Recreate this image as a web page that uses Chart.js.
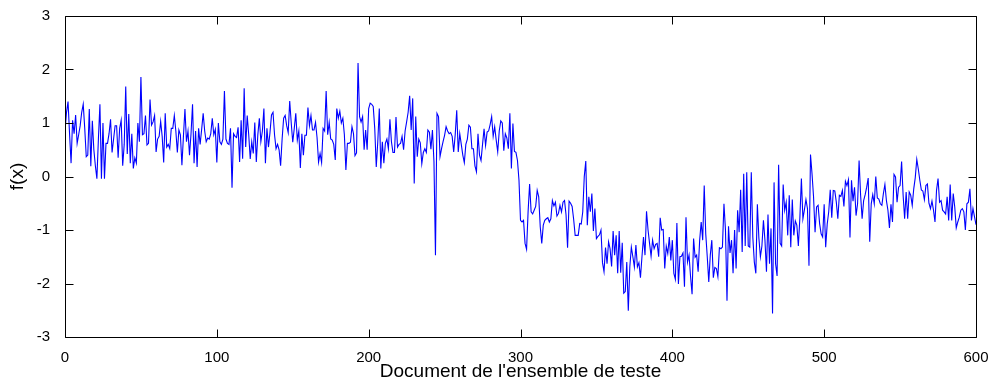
<!doctype html>
<html lang="en">
<head>
<meta charset="utf-8">
<title>f(x)</title>
<script src="https://cdn.jsdelivr.net/npm/chart.js@4"></script>
<style>
  body{margin:0;background:#fff;}
  #wrap{width:995px;height:383px;}
</style>
</head>
<body>
<div id="wrap"><canvas id="myChart" width="995" height="383"></canvas></div>
<script>
// tick values
const xTicks = [0, 100, 200, 300, 400, 500, 600];
const yTicks = [-3, -2, -1, 0, 1, 2, 3];

// f(x), documents 0..600
const seg000 = [
  0.84,1.2,1.4,0.8,0.25,1.05,0.8,1.15,0.62,0.78,
  0.95,1.2,1.35,0.9,0.37,0.4,1.26,0.19,1.04,0.5,
  0.2,-0.04,0.7,1.35,-0.04,1.0,-0.04,0.62,0.62,0.8,
  1.07,0.45,0.7,0.95,0.95,0.35,0.9,1.05,0.2,0.6,
  1.68,0.42,1.17,0.25,0.8,0.15,0.35,0.25,1.0,0.65,
  1.86,0.78,0.8,1.14,0.59,0.62,1.44,0.96,1.02,1.14,
  0.46,0.7,0.75,1.03,0.75,0.26,1.18,0.55,0.6,0.52,
  0.9,0.9,1.14,0.85,0.45,0.87,0.78,0.21,0.75,1.26,
  0.65,0.85,0.4,0.8,1.35,0.25,0.85,0.18,0.9,0.6,
  0.88,1.18,0.85,0.65,0.72,0.7,0.8,1.09,0.78,0.88
];
const seg100 = [
  0.26,1.0,0.65,0.6,0.7,1.6,0.7,0.62,0.6,0.9,
  -0.21,0.8,0.75,0.73,0.92,0.27,1.05,0.33,1.65,0.55,
  1.14,0.78,0.33,0.65,0.43,1.01,0.27,0.78,1.09,0.65,
  0.85,1.27,0.25,0.9,0.55,0.82,1.15,1.2,0.78,0.52,
  0.6,0.5,0.2,0.7,1.09,1.14,0.95,0.82,1.41,1.0,
  0.64,0.9,1.18,0.68,0.85,0.16,0.8,0.4,0.77,0.77,
  1.29,0.95,1.14,0.87,0.87,1.01,0.73,0.27,0.43,0.26,
  0.9,0.85,1.6,0.78,1.01,0.7,0.68,0.6,0.31,1.27,
  1.09,1.22,1.0,1.09,0.78,0.12,0.62,0.62,0.64,0.93,
  0.8,0.39,0.44,2.12,1.12,1.02,1.12,0.5,0.87,0.5
];
const seg200 = [
  1.27,1.37,1.35,1.31,0.9,0.18,0.65,1.27,0.15,0.65,
  0.25,0.62,0.7,0.52,1.07,0.65,0.45,0.45,1.11,0.55,
  0.6,0.62,0.75,0.5,0.85,1.02,1.2,1.51,0.87,1.46,
  -0.13,1.12,0.37,0.7,0.63,0.24,0.45,0.52,0.45,0.87,
  0.83,0.51,0.87,0.28,-1.47,1.18,1.12,0.37,0.52,0.65,
  0.77,0.93,0.85,0.8,0.82,0.75,0.46,0.78,1.24,0.46,
  0.8,0.6,0.4,0.26,0.6,0.7,0.96,0.92,0.52,0.52,
  0.2,0.09,0.8,0.4,0.3,0.6,0.89,0.58,0.83,0.85,
  0.97,1.12,0.75,0.93,0.68,0.46,0.85,1.04,1.0,0.48,
  0.8,0.72,0.52,1.18,0.15,0.99,0.47,0.45,0.3,-0.07
];
const seg300 = [
  -0.82,-0.85,-0.82,-1.25,-1.36,-0.66,-0.14,-0.66,-0.7,-0.63,
  -0.56,-0.26,-0.38,-0.94,-1.25,-0.91,-0.82,-0.79,-0.77,-0.85,
  -0.79,-0.45,-0.55,-0.48,-0.74,-0.69,-0.54,-0.66,-0.48,-0.45,
  -0.72,-1.33,-0.46,-0.5,-0.56,-0.8,-1.1,-1.1,-1.1,-0.88,
  -0.89,-0.66,0.0,0.29,-0.91,-0.38,-0.66,-0.32,-1.02,-0.6,
  -1.16,-1.12,-1.09,-1.0,-1.61,-1.78,-1.33,-1.63,-1.22,-1.35,
  -1.68,-1.02,-1.47,-1.1,-1.81,-1.02,-1.8,-1.24,-2.18,-2.15,
  -1.6,-2.51,-1.69,-1.32,-1.5,-1.69,-1.28,-1.69,-1.61,-1.89,
  -1.5,-1.13,-1.47,-0.65,-1.0,-1.25,-1.49,-1.19,-1.35,-1.27,
  -1.25,-1.5,-0.77,-1.0,-0.99,-1.72,-1.3,-1.44,-1.13,-1.57
];
const seg400 = [
  -1.19,-1.81,-1.92,-0.87,-2.01,-1.5,-1.49,-1.43,-2.06,-0.76,
  -1.6,-1.47,-1.87,-2.2,-1.16,-1.51,-1.47,-1.78,-1.19,-0.85,
  -1.19,-0.17,-1.07,-1.5,-1.97,-1.47,-1.19,-1.89,-1.7,-1.72,
  -1.87,-1.33,-1.35,-1.32,-0.51,-1.0,-2.32,-0.93,-1.43,-1.19,
  -1.81,-1.0,-1.72,-0.63,-1.04,-0.25,-1.41,0.05,-1.3,0.08,
  -1.3,-1.32,0.08,-1.13,-1.6,-1.81,-0.52,-1.15,-1.5,-1.3,
  -0.82,-1.19,-1.78,-0.71,-1.63,-0.97,-2.56,-0.11,-1.63,-1.86,
  0.22,-1.25,-1.3,-0.15,-0.63,-0.48,-1.1,-0.35,-1.32,-0.43,
  -1.1,-0.83,-0.91,-1.3,-0.77,-0.04,-0.79,-0.62,-0.43,-0.6,
  -1.67,0.41,0.05,-0.38,-1.04,-0.57,-0.54,-0.88,-1.07,-1.13
];
const seg500 = [
  -0.52,-1.32,-0.89,-0.66,-0.25,-0.77,-0.26,-0.27,-0.48,-0.79,
  -0.35,-0.37,-0.26,-0.56,-0.09,-0.17,-0.06,-1.14,-0.07,-0.46,
  -0.2,-0.73,-0.51,0.3,-0.35,-0.79,-0.45,-0.34,-0.2,-0.03,
  -1.22,-0.51,-0.34,-0.51,0.0,-0.4,-0.42,-0.51,-0.54,-0.32,
  -0.15,-0.45,-0.63,-0.96,-0.52,-0.85,0.04,-0.01,-0.48,-0.2,
  -0.17,0.28,-0.35,-0.79,-0.29,-0.79,-0.29,-0.35,-0.54,-0.23,
  -0.02,0.32,0.14,-0.07,-0.25,-0.27,-0.43,-0.17,-0.14,-0.5,
  -0.6,-0.46,-0.63,-0.85,-0.26,-0.04,-0.48,-0.45,-0.63,-0.66,
  -0.7,-0.38,-0.82,-0.15,-0.82,-0.32,-0.57,-0.96,-0.85,-0.76,
  -0.63,-0.6,-0.66,-1.0,-0.51,-0.48,-0.23,-0.82,-0.6,-0.75,
  -0.9
];

const fx = [].concat(seg000, seg100, seg200, seg300, seg400, seg500);
const points = fx.map((v, i) => ({ x: i, y: v }));

const TICK_FONT = { family: "'Liberation Sans', Arial, sans-serif", size: 15 };
const TITLE_FONT = { family: "'Liberation Sans', Arial, sans-serif", size: 19 };

// matlab style box with inward ticks on all four sides
const boxTicks = {
  id: 'boxTicks',
  afterDraw(chart) {
    const { ctx, chartArea: a, scales } = chart;
    const L = Math.round(a.left) + 0.5, R = Math.round(a.right) + 0.5;
    const T = Math.round(a.top) + 0.5, B = Math.round(a.bottom) + 0.5;
    const len = 8;
    ctx.save();
    ctx.strokeStyle = '#000';
    ctx.lineWidth = 1;
    ctx.beginPath();
    ctx.rect(L, T, R - L, B - T);
    xTicks.forEach(t => {
      const px = Math.round(scales.x.getPixelForValue(t)) + 0.5;
      ctx.moveTo(px, B); ctx.lineTo(px, B - len);
      ctx.moveTo(px, T); ctx.lineTo(px, T + len);
    });
    yTicks.forEach(t => {
      const py = Math.round(scales.y.getPixelForValue(t)) + 0.5;
      ctx.moveTo(L, py); ctx.lineTo(L + len, py);
      ctx.moveTo(R, py); ctx.lineTo(R - len, py);
    });
    ctx.stroke();
    ctx.restore();
  }
};

new Chart(document.getElementById('myChart').getContext('2d'), {
  type: 'line',
  data: {
    datasets: [{
      data: points,
      borderColor: '#0000ff',
      borderWidth: 1.1,
      pointRadius: 0,
      tension: 0,
      fill: false
    }]
  },
  options: {
    responsive: false,
    animation: false,
    devicePixelRatio: 1,
    layout: { padding: { top: 15, right: 19, left: 0, bottom: 0 } },
    plugins: { legend: { display: false }, tooltip: { enabled: false } },
    scales: {
      x: {
        type: 'linear',
        min: 0,
        max: 600,
        afterBuildTicks: s => { s.ticks = xTicks.map(v => ({ value: v })); },
        afterFit: s => { s.height = 46; },
        grid: { display: false },
        border: { display: false },
        ticks: { color: '#000', font: TICK_FONT, padding: 4, maxRotation: 0 },
        title: { display: true, text: "Document de l'ensemble de teste", color: '#000', font: TITLE_FONT, padding: { top: 0, bottom: 0 } }
      },
      y: {
        min: -3,
        max: 3,
        afterBuildTicks: s => { s.ticks = yTicks.map(v => ({ value: v })); },
        afterFit: s => { s.width = 65; },
        grid: { display: false },
        border: { display: false },
        ticks: { color: '#000', font: TICK_FONT, padding: 7 },
        title: { display: true, text: 'f(x)', color: '#000', font: TITLE_FONT, padding: { top: 6, bottom: 0 } }
      }
    }
  },
  plugins: [boxTicks]
});
</script>
</body>
</html>
